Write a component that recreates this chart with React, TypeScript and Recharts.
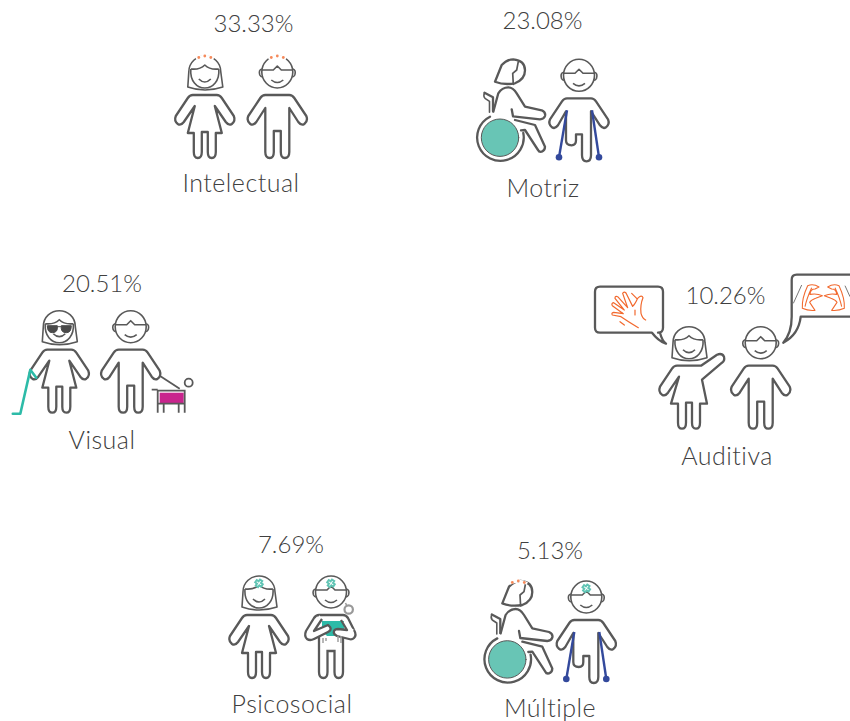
import { ScatterChart, Scatter, XAxis, YAxis } from "recharts";

const categories = ["Intelectual", "Motriz", "Visual", "Auditiva", "Psicosocial", "Múltiple"];
const percentages = ["33.33%", "23.08%", "20.51%", "10.26%", "7.69%", "5.13%"];

// places on the page, in the 850 x 721 units of the hidden axes
const womanX = [204.8, 510, 59.3, 689, 259, 517.3];
const manX = [277.3, 579, 130.7, 760.7, 331, 586.3];
const figureY = [56, 59.3, 310.7, 326.7, 576, 581];
const percentX = [253.5, 542.5, 102, 725.5, 291, 550];
const percentY = [32, 29, 292, 304, 553, 559];
const labelX = [241, 543, 102, 727, 292, 550];
const labelY = [192, 197, 449, 465, 713, 717];

const figures = categories.map((name, i) => ({ name, x: womanX[i], y: figureY[i], manX: manX[i] - womanX[i] }));
const percentRows = percentages.map((text, i) => ({ text, x: percentX[i], y: percentY[i] }));
const labelRows = categories.map((text, i) => ({ text, x: labelX[i], y: labelY[i] }));

const INK = "#595959";
const TEXT = "#404040";
const ORANGE = "#f2692e";
const DOT = "#f58a5b";
const TEAL = "#2dbba8";
const WHEEL = "#68c5b5";
const BLUE = "#33499c";
const FONT = "Lato, sans-serif";
const BODY_W = 2.3;

const Dots = () => (
  <g>
    <path d="M-9 2.5 Q0 -2 9 2.5" fill="none" stroke="#fff" strokeWidth={3} />
    <g fill={DOT}>
      <circle cx={-6} cy={1.5} r={1.4} />
      <circle cx={0} cy={0} r={1.4} />
      <circle cx={6} cy={1.5} r={1.4} />
    </g>
  </g>
);

const Cross = () => (
  <path d="M-1.4 3.6 H1.4 V5.9 H3.7 V8.7 H1.4 V11 H-1.4 V8.7 H-3.7 V5.9 H-1.4 Z" fill="#fff" stroke="#5fc4b4" strokeWidth={1.9} transform="rotate(35 0 7.3)" />
);

const WomanHead = () => (
  <g fill="none" stroke={INK} strokeWidth={1.6} strokeLinejoin="round">
    <path d="M-17 31 L-16 16 C-16 6 -8 0 0 0 C8 0 16 6 16 16 L18 31 Q0 37 -17 31 Z" />
    <path d="M-14 13 Q-5 14 0 9 Q5 14 14 13" />
    <path d="M-14 13 C-15 25 -8 32 0 32 C8 32 15 25 14 13" />
    <path d="M-6 23 Q0 29 6 23" />
  </g>
);

const ManHead = () => (
  <g fill="none" stroke={INK} strokeWidth={1.6} strokeLinejoin="round">
    <ellipse cx={0} cy={16} rx={15.5} ry={16} />
    <path d="M-15.5 14 H-4 L0 10 L4 14 H15.5" />
    <path d="M-15.5 13 Q-19 14 -17.5 19 Q-16.5 21 -15 21" />
    <path d="M15.5 13 Q19 14 17.5 19 Q16.5 21 15 21" />
    <path d="M-6 24 Q0 29 6 24" />
  </g>
);

const ARM_R = "L29 60 Q31 65 27 68 Q24 70 21 66";
const ARM_L = "L-21 66 Q-24 70 -27 68 Q-31 65 -29 60 L-17 42 Q-15 39 -12 39";

const WomanBody = () => (
  <path
    d={`M-12 39 H12 Q15 39 17 42 ${ARM_R} L10 50 L17 77 H11 V96 Q11 102 7 102 Q3 102 3 96 V76 H-3 V96 Q-3 102 -7 102 Q-11 102 -11 96 V77 H-17 L-10 50 ${ARM_L} Z`}
    fill="#fff" stroke={INK} strokeWidth={BODY_W} strokeLinejoin="round"
  />
);

const ManBody = () => (
  <path
    d={`M-12 39 H12 Q15 39 17 42 ${ARM_R} L12 52 V96 Q12 102 7.5 102 Q3.5 102 3.5 96 V75 H-3.5 V96 Q-3.5 102 -7.5 102 Q-12 102 -12 96 V52 ${ARM_L} Z`}
    fill="#fff" stroke={INK} strokeWidth={BODY_W} strokeLinejoin="round"
  />
);

const CrutchMan = () => (
  <g>
    <path
      d={`M-12 39 H12 Q15 39 17 42 ${ARM_R} L12 52 V96 Q12 102 7.5 102 Q3 102 3 96 V75 H-3 V81 Q-3 86 -7.5 86 Q-13 86 -13 81 V52 ${ARM_L} Z`}
      fill="#fff" stroke={INK} strokeWidth={BODY_W} strokeLinejoin="round"
    />
    <g stroke={BLUE} strokeWidth={2.4}>
      <line x1={-12} y1={51} x2={-20} y2={98} />
      <line x1={13} y1={51} x2={20} y2={98} />
    </g>
    <circle cx={-20} cy={98} r={3.3} fill={BLUE} />
    <circle cx={20} cy={98} r={3.3} fill={BLUE} />
  </g>
);

const WheelWoman = () => (
  <g fill="none" stroke={INK} strokeWidth={BODY_W} strokeLinejoin="round" strokeLinecap="round">
    <path d="M-15 22.4 L-8.3 5.7 Q-3 0 3.3 0 Q15 1 15 11 Q15 20 5 24 Q-6 26 -15 22.4 Z" />
    <path d="M8.3 2.4 L6.7 10.7 L2.7 14 L3.3 25" strokeWidth={1.7} />
    <path d="M-25.5 33.5 L-17 38 V52" />
    <path d="M-25.5 33.5 Q-27 37 -25 39 L-20.5 42 V53" strokeWidth={1.6} />
    <path d="M-16.7 52.4 L-11.7 34 Q-8 28 -1.7 28 Q3 28 6.7 34 L15 47.4 L31.7 51 Q36 53 35 56.7 Q34 60 30 60 L3 57 L1.7 50" />
    <path d="M5 60.7 L25 65.7 L35 87.4 Q35 91 31.7 92.4 Q29 93 28 90.7 L15 70.7 L11 71" />
    <circle cx={-10} cy={78.4} r={18.7} fill={WHEEL} strokeWidth={1} />
    <path d="M-20 57.4 A23.3 23.3 0 1 0 13.3 73.7" />
  </g>
);

const Cane = () => (
  <path d="M-46.5 103 H-39 L-29 59 L-23 67" fill="none" stroke={TEAL} strokeWidth={2.6} strokeLinejoin="round" strokeLinecap="round" />
);

const Shades = () => (
  <path d="M-12 15 H-2 Q-1 22 -7 22 Q-12 22 -12 15 Z M12 15 H2 Q1 22 7 22 Q12 22 12 15 Z M-2 16 H2" fill="#4a4a4a" stroke="#4a4a4a" strokeWidth={1} />
);

const Dog = () => (
  <g>
    <rect x={29} y={82} width={24} height={11} fill="#c9248d" />
    <g fill="none" stroke={INK} strokeWidth={1.8}>
      <path d="M21 79 H27 M27 102 V80 H54 V102 M33 93 V102 M48 93 V102 M27 93 H54" />
      <path d="M29 65 L49 78" />
      <circle cx={58} cy={72} r={4} />
    </g>
  </g>
);

// speech bubbles, hand glyphs written in a 3x grid
const LeftBubble = () => (
  <g>
    <path d="M-89 -40 H-31 Q-26 -40 -26 -35 V1 Q-26 6 -31 6 L-29 6 Q-27 14 -23 17 Q-31 14 -37 6 H-89 Q-94 6 -94 1 V-35 Q-94 -40 -89 -40 Z" fill="#fff" stroke={INK} strokeWidth={BODY_W} strokeLinejoin="round" />
    <g transform="translate(-104 -61.67) scale(0.3333)" fill="none" stroke={ORANGE} strokeWidth={3.6} strokeLinejoin="round" strokeLinecap="round">
      <path d="M160 188 Q130 170 108 155 L82 150 Q78 144 86 142 L115 146 L82 122 Q78 115 86 113 L118 135 L90 100 Q90 92 98 95 L128 128 L113 85 Q117 78 123 84 L143 124 Q150 118 158 100 Q170 88 174 98 Q165 120 168 145 Q172 160 182 165" />
      <path d="M105 170 L118 180 M140 85 L155 100 M150 135 V150" />
    </g>
  </g>
);

const RightBubble = () => (
  <g>
    <path d="M36 -52 H110 V-10 H40 Q38 8 22.6 16 Q31 6 31 -10 V-47 Q31 -52 36 -52 Z" fill="#fff" stroke={INK} strokeWidth={BODY_W} strokeLinejoin="round" />
    <g transform="translate(-175.67 -61.67) scale(0.3333)" fill="none" stroke={ORANGE} strokeWidth={3.2} strokeLinejoin="round">
      <path id="hand-a" d="M652 130 Q650 100 668 62 Q685 55 702 66 L690 72 Q676 72 675 88 Q695 84 712 92 L692 100 Q678 105 674 112 L690 136 Q670 138 652 130 Z M660 125 Q665 100 680 68" />
      <path d="M778 130 Q780 100 762 62 Q745 55 728 66 L740 72 Q754 72 755 88 Q735 84 718 92 L738 100 Q752 105 756 112 L740 136 Q760 138 778 130 Z M770 125 Q765 100 750 68" />
      <path d="M650 60 L625 115 M780 62 L795 95" stroke="#777" strokeWidth={3} />
    </g>
  </g>
);

const RaisedArmWoman = () => (
  <path
    d="M-12 39 H12 L28 28 Q33 26 35 30 Q36 34 33 36 L13 53 L18 77 H11 V96 Q11 102 7 102 Q3 102 3 96 V76 H-3 V96 Q-3 102 -7 102 Q-11 102 -11 96 V77 H-18 L-10 50 L-21 66 Q-24 70 -27 68 Q-31 65 -29 60 L-17 42 Q-15 39 -12 39 Z"
    fill="#fff" stroke={INK} strokeWidth={BODY_W} strokeLinejoin="round"
  />
);

const BookMan = () => (
  <g>
    <path d="M-12 52 V96 Q-12 102 -7.5 102 Q-3.5 102 -3.5 96 V75 H3.5 V96 Q3.5 102 7.5 102 Q12 102 12 96 V52" fill="#fff" stroke={INK} strokeWidth={BODY_W} />
    <path d="M-9 45 H13 V55 L3 60 H-4 L-9 55 Z" fill={TEAL} />
    <path d="M-12 39 H12 Q15 39 17 42 L23 54" fill="none" stroke={INK} strokeWidth={BODY_W} />
    <path d="M-12 39 Q-15 39 -17 42 L-25 55 Q-27 60 -24 63 Q-21 65 -17 63 L-3 56 Q1 54 -1 51 L-3 49 L-17 55 L-9 43" fill="#fff" stroke={INK} strokeWidth={BODY_W} strokeLinejoin="round" />
    <path d="M23 54 Q26 59 23 62 Q21 64 18 63 L6 60 Q2 58 3 55 Q4 53 7 53 L16 54 L10 44" fill="#fff" stroke={INK} strokeWidth={BODY_W} strokeLinejoin="round" />
    <path d="M-8 62 V67 M-5 62 V65 M7 60 V66 M10 60 V67" stroke="#a0a0a0" strokeWidth={1.5} />
    <circle cx={17.7} cy={33.5} r={4.2} fill="none" stroke="#999" strokeWidth={2.2} />
    <path d="M14.5 27 L16 30" stroke="#999" strokeWidth={1.5} />
  </g>
);

const FigurePair = ({ cx, cy, payload }: any) => {
  const name = payload.name;
  const man = `translate(${cx + payload.manX} ${cy})`;
  const woman = `translate(${cx} ${cy})`;
  if (name === "Motriz" || name === "Múltiple") {
    const extras = name === "Múltiple";
    return (
      <g>
        <g transform={woman}>
          <WheelWoman />
          {extras && <g transform="translate(1 0)"><Dots /></g>}
        </g>
        <g transform={man}>
          <ManHead />
          <CrutchMan />
          {extras && <Cross />}
        </g>
      </g>
    );
  }
  return (
    <g>
      <g transform={woman}>
        {name === "Auditiva" && <LeftBubble />}
        <WomanHead />
        {name === "Auditiva" ? <RaisedArmWoman /> : <WomanBody />}
        {name === "Visual" && <Cane />}
        {name === "Intelectual" && <Dots />}
        {name === "Visual" && <Shades />}
        {name === "Psicosocial" && <Cross />}
      </g>
      <g transform={man}>
        {name === "Auditiva" && <RightBubble />}
        <ManHead />
        {name === "Psicosocial" ? <BookMan /> : <ManBody />}
        {name === "Visual" && <Dog />}
        {name === "Intelectual" && <Dots />}
        {name === "Psicosocial" && <Cross />}
      </g>
    </g>
  );
};

const PercentText = ({ cx, cy, payload }: any) => (
  <text x={cx} y={cy} textAnchor="middle" fontFamily={FONT} fontWeight={300} fontSize={24} fill={TEXT}>
    {payload.text}
  </text>
);

const LabelText = ({ cx, cy, payload }: any) => (
  <text x={cx} y={cy} textAnchor="middle" fontFamily={FONT} fontWeight={300} fontSize={25} letterSpacing={0.5} fill={TEXT}>
    {payload.text}
  </text>
);

export default function App() {
  return (
    <div style={{ position: "absolute", left: 0, top: 0, width: 850, height: 721 }}>
      <ScatterChart width={850} height={721} margin={{ top: 0, right: 0, bottom: 0, left: 0 }}>
        <XAxis type="number" dataKey="x" domain={[0, 850]} hide />
        <YAxis type="number" dataKey="y" domain={[0, 721]} reversed hide />
        <Scatter data={figures} shape={FigurePair} isAnimationActive={false} />
        <Scatter data={percentRows} shape={PercentText} isAnimationActive={false} />
        <Scatter data={labelRows} shape={LabelText} isAnimationActive={false} />
      </ScatterChart>
    </div>
  );
}
